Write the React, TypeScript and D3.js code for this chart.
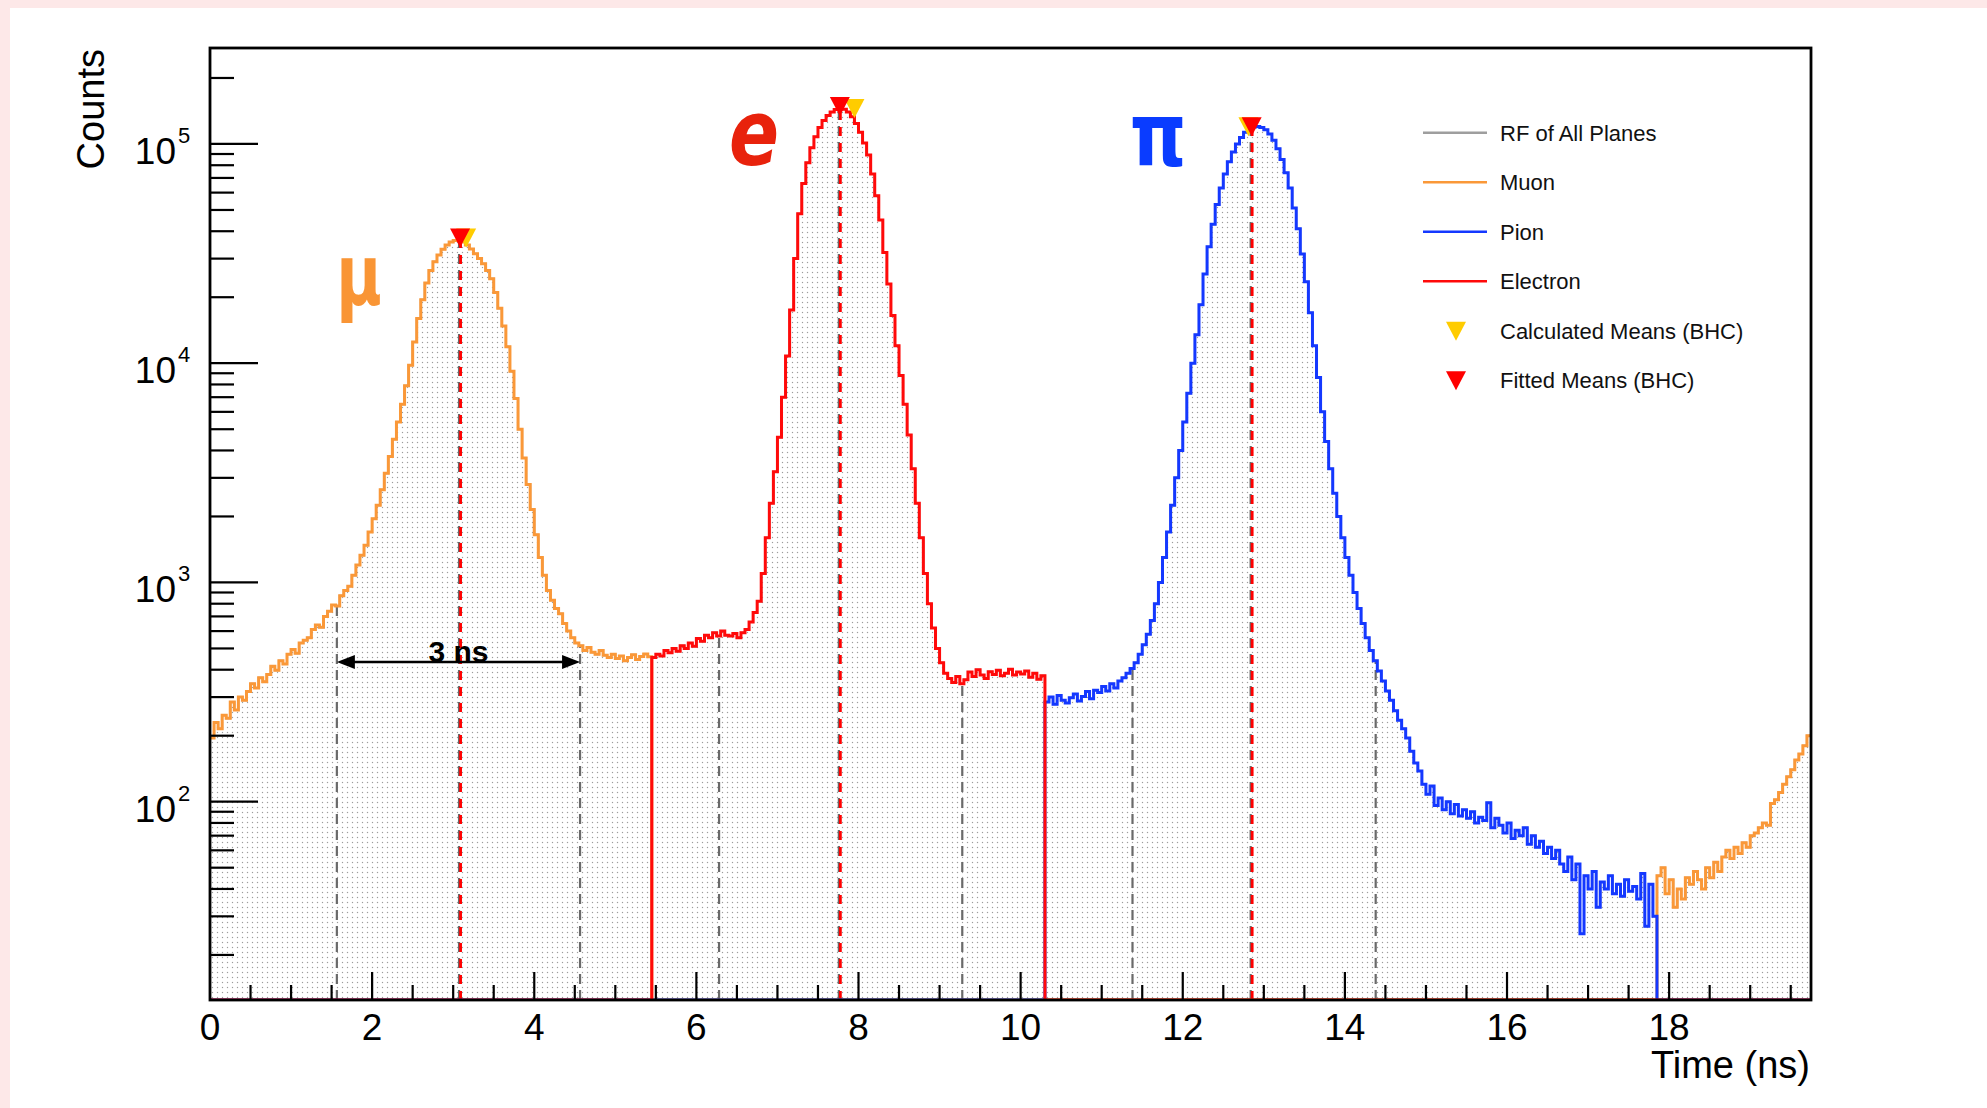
import { useEffect, useRef } from 'react';
import * as d3 from 'd3';

// RF time histogram, 0.05 ns bins from 0 to 19.75 ns
const BIN_WIDTH = 0.05;
const rfCounts = [
  195, 230, 215, 248, 240, 285, 262, 300, 290, 318, 345, 330, 368, 352, 380, 415, 398, 440, 425, 470,
  495, 475, 530, 545, 560, 610, 640, 625, 700, 740, 790, 780, 870, 920, 960, 1080, 1200, 1330, 1480, 1700,
  1950, 2250, 2650, 3150, 3750, 4500, 5400, 6500, 7900, 9800, 12500, 16000, 19500, 23200, 26500, 29000, 31200, 33100, 34600, 35700,
  36300, 36400, 35700, 34600, 33200, 31600, 30000, 28400, 26500, 24300, 21000, 17800, 14800, 11900, 9200, 6900, 5000, 3700, 2800, 2150,
  1650, 1300, 1080, 920, 830, 760, 720, 650, 600, 560, 530, 515, 490, 505, 480, 470, 490, 465, 455, 470,
  450, 462, 440, 455, 468, 445, 460, 472, 458, 455, 470, 462, 490, 478, 500, 485, 515, 500, 530, 512,
  555, 540, 575, 560, 590, 570, 600, 575, 570, 585, 560, 590, 610, 660, 730, 820, 1100, 1600, 2300, 3200,
  4600, 7000, 10800, 17500, 30000, 48000, 66000, 82000, 96000, 108000, 119000, 128000, 135000, 140000, 143500, 145000, 144000, 140000, 133000, 124000,
  113000, 101000, 89000, 73000, 58000, 45000, 32000, 23000, 16500, 12000, 8800, 6500, 4700, 3300, 2300, 1600, 1100, 800, 620, 500,
  430, 385, 365, 350, 372, 345, 360, 390, 372, 400, 378, 365, 392, 380, 398, 375, 385, 402, 378, 390,
  382, 395, 370, 385, 362, 375, 285, 300, 278, 305, 290, 282, 298, 310, 288, 302, 318, 295, 322, 315,
  335, 320, 345, 330, 355, 368, 385, 405, 430, 470, 520, 580, 670, 800, 1000, 1300, 1700, 2250, 3000, 4000,
  5400, 7300, 10000, 13500, 18500, 25500, 34000, 43000, 53000, 63000, 73000, 83000, 92000, 100000, 107000, 113000, 117000, 119500, 120000, 119000,
  116000, 111000, 104000, 95000, 85000, 74000, 63000, 51000, 41000, 31500, 23500, 17000, 12000, 8600, 6000, 4400, 3300, 2550, 2000, 1600,
  1300, 1080, 900, 760, 650, 560, 490, 440, 395, 355, 320, 290, 260, 235, 215, 195, 170, 150, 138, 120,
  108, 118, 96, 104, 92, 100, 88, 97, 86, 92, 84, 90, 80, 85, 82, 99, 76, 84, 78, 72,
  80, 68, 74, 70, 76, 64, 70, 62, 66, 58, 62, 55, 60, 52, 48, 56, 44, 52, 25, 46,
  40, 48, 33, 43, 40, 46, 38, 42, 37, 44, 39, 41, 36, 47, 27, 42, 30, 46, 50, 38,
  44, 33, 40, 36, 45, 42, 48, 44, 40, 50, 45, 53, 48, 56, 60, 55, 62, 58, 65, 62,
  70, 72, 76, 80, 78, 98, 102, 110, 120, 130, 140, 155, 165, 180, 200,
];

// time windows (ns) where each particle owns the RF histogram
const muonRanges = [[0, 5.45], [17.85, 19.75]];
const pionRanges = [[10.3, 17.85]];
const electronRanges = [[5.45, 10.3]];

// muon, electron, pion
const fittedMeans = [3.085, 7.77, 12.85];
const fittedPeaks = [37400, 149000, 120500];
const calcMeans = [3.16, 7.95, 12.81];
const calcPeaks = [37400, 146000, 120500];
const windowLow = [1.565, 6.28, 11.38];
const windowHigh = [4.565, 9.28, 14.38];

const xTicks = [0, 2, 4, 6, 8, 10, 12, 14, 16, 18];
const yDecades = [2, 3, 4, 5];

const legendLabels = ['RF of All Planes', 'Muon', 'Pion', 'Electron', 'Calculated Means (BHC)', 'Fitted Means (BHC)'];

const W = 1987;
const H = 1108;
const left = 210, right = 1811, top = 48, bottom = 1000;
const FONT = '"Liberation Sans", Arial, Helvetica, sans-serif';

const C_MUON = '#fa9838';
const C_PION = '#1438ff';
const C_ELEC = '#ff0a0a';
const C_RF = '#9e9e9e';
const C_CALC = '#ffcc00';
const C_FIT = '#ff0000';

const RFChart = () => {
  const svgRef = useRef(null);

  useEffect(() => {
    draw();
  }, []);

  const draw = () => {
    const svg = d3.select(svgRef.current);
    svg.selectAll('*').remove();

    const yMin = 12.46;
    const x = d3.scaleLinear().domain([0, 19.75]).range([left, right]);
    const y = d3.scaleLog().domain([yMin, 274000]).range([bottom, top]).clamp(true);

    // background
    svg.append('rect').attr('width', W).attr('height', H).attr('fill', '#fde8e8');
    svg.append('rect').attr('x', 10).attr('y', 8).attr('width', W - 10).attr('height', H - 8).attr('fill', '#fff');

    const defs = svg.append('defs');
    const pat = defs.append('pattern')
      .attr('id', 'dots')
      .attr('patternUnits', 'userSpaceOnUse')
      .attr('width', 5)
      .attr('height', 5);
    pat.append('rect').attr('x', 1.9).attr('y', 1.9).attr('width', 1.2).attr('height', 1.2).attr('fill', '#9c9c9c');
    defs.append('clipPath').attr('id', 'plotclip')
      .append('rect').attr('x', left).attr('y', top).attr('width', right - left).attr('height', bottom - top);

    const nb = rfCounts.length;
    const toPoints = (vals) => {
      const pts = vals.map((v, i) => [i * BIN_WIDTH, v]);
      pts.push([nb * BIN_WIDTH, vals[nb - 1]]);
      return pts;
    };
    const masked = (ranges) => rfCounts.map((v, i) => {
      const c = (i + 0.5) * BIN_WIDTH;
      return ranges.some(([a, b]) => c >= a && c < b) ? v : 0;
    });

    const line = d3.line()
      .curve(d3.curveStepAfter)
      .x(d => x(d[0]))
      .y(d => y(Math.max(d[1], yMin)));
    const area = d3.area()
      .curve(d3.curveStepAfter)
      .x(d => x(d[0]))
      .y0(bottom)
      .y1(d => y(Math.max(d[1], yMin)));

    const plot = svg.append('g').attr('clip-path', 'url(#plotclip)');

    plot.append('path').attr('d', area(toPoints(rfCounts))).attr('fill', 'url(#dots)');
    plot.append('path').attr('d', line(toPoints(rfCounts)))
      .attr('fill', 'none').attr('stroke', C_RF).attr('stroke-width', 2);

    const valueAt = (t) => rfCounts[Math.min(nb - 1, Math.floor(t / BIN_WIDTH))];

    // +-1.5 ns windows
    [...windowLow, ...windowHigh].forEach(t => {
      plot.append('line')
        .attr('x1', x(t)).attr('x2', x(t))
        .attr('y1', bottom).attr('y2', y(valueAt(t)))
        .attr('stroke', '#6a6a6a').attr('stroke-width', 2.2)
        .attr('stroke-dasharray', '10 6');
    });

    // fitted means
    fittedMeans.forEach((t, i) => {
      plot.append('line')
        .attr('x1', x(t) - 1).attr('x2', x(t) - 1)
        .attr('y1', bottom).attr('y2', y(fittedPeaks[i]))
        .attr('stroke', '#6a6a6a').attr('stroke-width', 2.2)
        .attr('stroke-dasharray', '10 6');
      plot.append('line')
        .attr('x1', x(t) + 0.5).attr('x2', x(t) + 0.5)
        .attr('y1', bottom).attr('y2', y(fittedPeaks[i]))
        .attr('stroke', C_FIT).attr('stroke-width', 2.8)
        .attr('stroke-dasharray', '9 7');
    });

    // particle histograms
    [[muonRanges, C_MUON], [pionRanges, C_PION], [electronRanges, C_ELEC]].forEach(([ranges, col]) => {
      plot.append('path').attr('d', line(toPoints(masked(ranges))))
        .attr('fill', 'none').attr('stroke', col).attr('stroke-width', 3)
        .attr('stroke-linejoin', 'miter');
    });

    // markers
    const tri = 'M-10,-9L10,-9L0,10Z';
    calcMeans.forEach((t, i) => {
      svg.append('path').attr('d', tri)
        .attr('transform', `translate(${x(t)},${y(calcPeaks[i])})`)
        .attr('fill', C_CALC);
    });
    fittedMeans.forEach((t, i) => {
      svg.append('path').attr('d', tri)
        .attr('transform', `translate(${x(t)},${y(fittedPeaks[i])})`)
        .attr('fill', C_FIT);
    });

    // 3 ns arrow
    const ay = 662;
    const ax0 = x(windowLow[0]);
    const ax1 = x(windowHigh[0]);
    svg.append('line').attr('x1', ax0 + 8).attr('x2', ax1 - 8).attr('y1', ay).attr('y2', ay)
      .attr('stroke', '#000').attr('stroke-width', 2.5);
    svg.append('path').attr('d', `M${ax0},${ay}L${ax0 + 18},${ay - 7}L${ax0 + 18},${ay + 7}Z`).attr('fill', '#000');
    svg.append('path').attr('d', `M${ax1},${ay}L${ax1 - 18},${ay - 7}L${ax1 - 18},${ay + 7}Z`).attr('fill', '#000');
    svg.append('text')
      .attr('x', (ax0 + ax1) / 2).attr('y', ay)
      .attr('text-anchor', 'middle')
      .attr('font-family', FONT).attr('font-weight', 'bold').attr('font-size', 30)
      .text('3 ns');

    // frame and ticks
    const axes = svg.append('g').attr('stroke', '#000');
    d3.range(0.5, 19.75, 0.5).forEach(t => {
      const major = Math.abs(t % 2) < 1e-9;
      axes.append('line').attr('x1', x(t)).attr('x2', x(t))
        .attr('y1', bottom).attr('y2', bottom - (major ? 28 : 15))
        .attr('stroke-width', 2.2);
    });
    yDecades.forEach(d => {
      for (let k = 1; k <= 9; k++) {
        const v = k * Math.pow(10, d);
        if (v < yMin || v > 274000) continue;
        axes.append('line').attr('x1', left).attr('x2', left + (k === 1 ? 48 : 24))
          .attr('y1', y(v)).attr('y2', y(v)).attr('stroke-width', 2.2);
      }
    });
    [20, 30, 40, 50, 60, 70, 80, 90].forEach(v => {
      axes.append('line').attr('x1', left).attr('x2', left + 24)
        .attr('y1', y(v)).attr('y2', y(v)).attr('stroke-width', 2.2);
    });
    svg.append('rect')
      .attr('x', left).attr('y', top).attr('width', right - left).attr('height', bottom - top)
      .attr('fill', 'none').attr('stroke', '#000').attr('stroke-width', 2.8);

    // tick labels
    xTicks.forEach(t => {
      svg.append('text').attr('x', x(t)).attr('y', 1040)
        .attr('text-anchor', 'middle').attr('font-family', FONT).attr('font-size', 37)
        .text(t);
    });
    yDecades.forEach(d => {
      const yy = y(Math.pow(10, d));
      svg.append('text').attr('x', 176).attr('y', yy + 20)
        .attr('text-anchor', 'end').attr('font-family', FONT).attr('font-size', 37)
        .text('10');
      svg.append('text').attr('x', 178).attr('y', yy - 1)
        .attr('font-family', FONT).attr('font-size', 22)
        .text(d);
    });

    svg.append('text')
      .attr('transform', 'translate(104,49) rotate(-90)')
      .attr('text-anchor', 'end').attr('font-family', FONT).attr('font-size', 38)
      .text('Counts');
    svg.append('text')
      .attr('x', 1810).attr('y', 1078)
      .attr('text-anchor', 'end').attr('font-family', FONT).attr('font-size', 38)
      .text('Time (ns)');

    // legend
    const legendColors = [C_RF, C_MUON, C_PION, C_ELEC];
    legendLabels.forEach((lab, i) => {
      const ly = 132.7 + i * 49.5;
      if (i < 4) {
        svg.append('line').attr('x1', 1423).attr('x2', 1487).attr('y1', ly).attr('y2', ly)
          .attr('stroke', legendColors[i]).attr('stroke-width', 2.6);
      } else {
        svg.append('path').attr('d', tri)
          .attr('transform', `translate(1456,${ly})`)
          .attr('fill', i === 4 ? C_CALC : C_FIT);
      }
      svg.append('text').attr('x', 1500).attr('y', ly + 8)
        .attr('font-family', FONT).attr('font-size', 22).attr('fill', '#111')
        .text(lab);
    });

    // hand-drawn particle labels
    svg.append('text')
      .attr('transform', 'translate(359,305) scale(0.72,1)')
      .attr('text-anchor', 'middle')
      .attr('font-family', '"DejaVu Sans", sans-serif').attr('font-weight', 'bold').attr('font-size', 86)
      .attr('fill', '#f99535')
      .text('\u03bc');
    svg.append('text')
      .attr('transform', 'translate(754,165) scale(0.82,1)')
      .attr('text-anchor', 'middle')
      .attr('font-family', '"DejaVu Sans", sans-serif').attr('font-weight', 'bold').attr('font-style', 'italic')
      .attr('font-size', 90)
      .attr('fill', '#e8220c')
      .text('e');
    svg.append('text')
      .attr('transform', 'translate(1158,166) scale(0.92,1.12)')
      .attr('text-anchor', 'middle')
      .attr('font-family', '"DejaVu Sans", sans-serif').attr('font-weight', 'bold')
      .attr('font-size', 78)
      .attr('fill', '#0a3cff')
      .text('\u03c0');
  };

  return <svg ref={svgRef} width={W} height={H} style={{ position: 'absolute', left: 0, top: 0 }} />;
};

export default function App() {
  return <RFChart />;
}
